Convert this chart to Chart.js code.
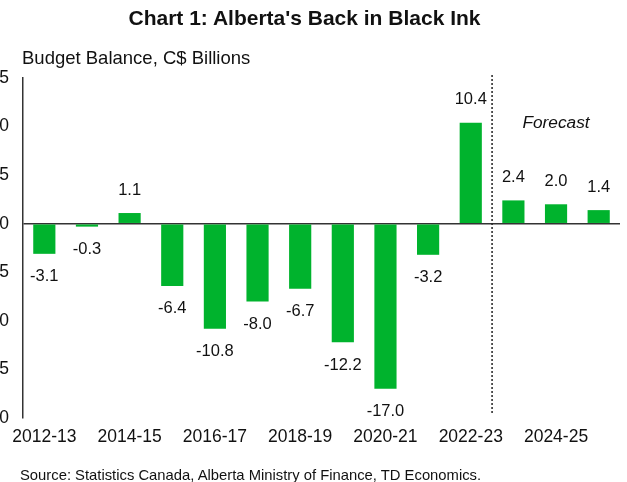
<!DOCTYPE html>
<html>
<head>
<meta charset="utf-8">
<script src="https://cdn.jsdelivr.net/npm/chart.js@4"></script>
<style>
  body { margin: 0; background: #fff; font-family: "Liberation Sans", Arial, sans-serif; }
  #wrap { position: relative; width: 627px; height: 482px; overflow: hidden; }
  #title { position: absolute; top: 6px; left: -9px; width: 627px; text-align: center; font-weight: bold; font-size: 21px; color: #111; }
  #sub { position: absolute; top: 47px; left: 22px; font-size: 18.5px; color: #111; }
  #src { position: absolute; top: 467px; left: 20px; font-size: 14.8px; color: #111; }
  #box { position: absolute; left: -30px; top: 0; width: 657px; height: 482px; }
</style>
</head>
<body>
<div id="wrap">
  <div id="box"><canvas id="c" width="657" height="482"></canvas></div>
  <div id="title">Chart 1: Alberta's Back in Black Ink</div>
  <div id="sub">Budget Balance, C$ Billions</div>
  <div id="src">Source: Statistics Canada, Alberta Ministry of Finance, TD Economics.</div>
</div>
<script>
const years = ["2012-13", "2013-14", "2014-15", "2015-16", "2016-17", "2017-18", "2018-19",
  "2019-20", "2020-21", "2021-22", "2022-23", "2023-24", "2024-25", "2025-26"];
const balance = [-3.1, -0.3, 1.1, -6.4, -10.8, -8.0, -6.7, -12.2, -17.0, -3.2, 10.4, 2.4, 2.0, 1.4];
const yTicks = [15, 10, 5, 0, -5, -10, -15, -20];
const firstForecast = 11; // 2023-24 onwards is forecast

// value labels above/below each bar, plus the forecast divider
const extras = {
  id: "extras",
  afterDatasetsDraw(chart) {
    const ctx = chart.ctx;
    const x = chart.scales.x, y = chart.scales.y;
    const meta = chart.getDatasetMeta(0);
    ctx.save();
    ctx.font = "16.5px 'Liberation Sans', Arial";
    ctx.fillStyle = "#111";
    ctx.textAlign = "center";
    ctx.textBaseline = "middle";
    meta.data.forEach((bar, i) => {
      const v = balance[i];
      const off = v >= 0 ? -23 : 23;
      ctx.fillText(v.toFixed(1), bar.x, bar.y + off);
    });

    // dotted line between actuals and forecast
    const lx = (x.getPixelForValue(firstForecast - 1) + x.getPixelForValue(firstForecast)) / 2;
    ctx.strokeStyle = "#222";
    ctx.lineWidth = 1.5;
    ctx.setLineDash([2, 2]);
    ctx.beginPath();
    ctx.moveTo(lx, chart.chartArea.top - 3);
    ctx.lineTo(lx, chart.chartArea.bottom - 5);
    ctx.stroke();
    ctx.setLineDash([]);

    ctx.font = "italic 17.3px 'Liberation Sans', Arial";
    ctx.fillText("Forecast", x.getPixelForValue(12), y.getPixelForValue(10.3));
    ctx.restore();
  }
};

new Chart(document.getElementById("c"), {
  type: "bar",
  data: {
    labels: years,
    datasets: [{
      data: balance,
      backgroundColor: "#00b32d",
      categoryPercentage: 1,
      barPercentage: 0.52
    }]
  },
  options: {
    responsive: false,
    animation: false,
    layout: { padding: { top: 78, right: 7, bottom: 34, left: 0 } },
    plugins: { legend: { display: false }, tooltip: { enabled: false } },
    scales: {
      x: {
        grid: { display: false, drawTicks: false },
        border: { display: false },
        afterFit(s) { s.height = 30; },
        ticks: {
          autoSkip: false,
          maxRotation: 0,
          padding: 9,
          color: "#111",
          font: { family: "'Liberation Sans', Arial", size: 17.5 },
          callback: (v, i) => (i % 2 === 0 ? years[i] : "")
        }
      },
      y: {
        min: -20,
        max: 15,
        afterFit(s) { s.width = 53; },
        afterBuildTicks(s) { s.ticks = yTicks.map(v => ({ value: v })); },
        border: { display: true, color: "#333", width: 1.5 },
        grid: {
          drawTicks: false,
          color: c => (c.tick && c.tick.value === 0 ? "#333" : "transparent"),
          lineWidth: 1.5
        },
        ticks: {
          padding: 14,
          color: "#111",
          font: { family: "'Liberation Sans', Arial", size: 17.5 }
        }
      }
    }
  },
  plugins: [extras]
});
</script>
</body>
</html>
